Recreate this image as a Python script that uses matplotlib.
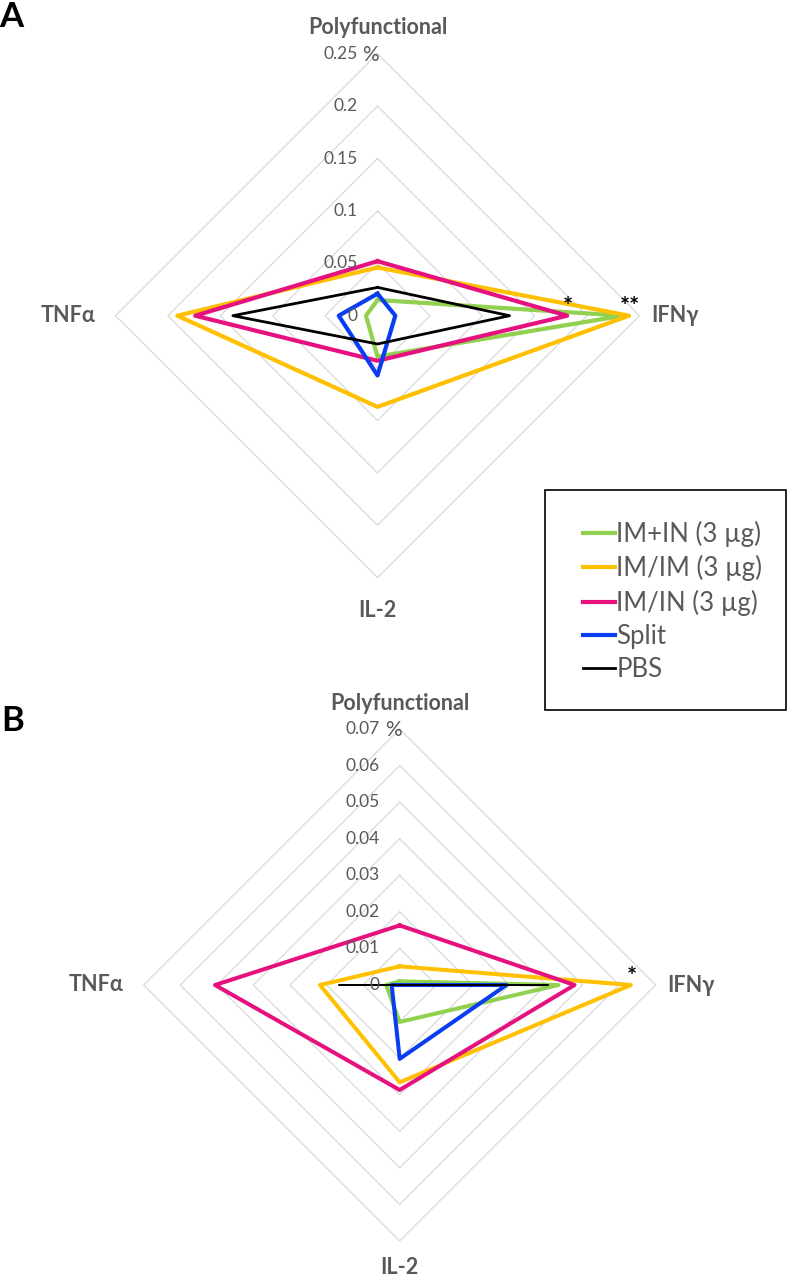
import numpy as np
import matplotlib.pyplot as plt
from matplotlib.patches import Rectangle

plt.rcParams['font.family'] = ['Lato', 'DejaVu Sans']

W, H = 788, 1280
GREY = "#595959"

categories = ["Polyfunctional", "IFNγ", "IL-2", "TNFα"]
groups = ["IM+IN (3 µg)", "IM/IM (3 µg)", "IM/IN (3 µg)", "Split", "PBS"]
colors = ["#92D050", "#FFC000", "#E6117F", "#0A3CF0", "#000000"]

# panel A, % of cells; order: Polyfunctional, IFNγ, IL-2, TNFα
a_im_in = [0.015, 0.234, 0.039, 0.011]
a_im_im = [0.046, 0.240, 0.087, 0.191]
a_im_in2 = [0.052, 0.181, 0.043, 0.174]
a_split = [0.021, 0.017, 0.057, 0.037]
a_pbs = [0.027, 0.126, 0.027, 0.138]
a_ticks = [0, 0.05, 0.10, 0.15, 0.20, 0.25]
a_tick_labels = ["0", "0.05", "0.1", "0.15", "0.2", "0.25"]
a_stars = {"IM/IN (3 µg)": "*", "IM/IM (3 µg)": "**"}

# panel B
b_im_in = [0.0010, 0.0434, 0.0101, 0.0037]
b_im_im = [0.0051, 0.0632, 0.0266, 0.0218]
b_im_in2 = [0.0163, 0.0478, 0.0287, 0.0505]
b_split = [0.0, 0.0292, 0.0202, 0.0022]
b_pbs = [0.0, 0.0406, 0.0, 0.0166]
b_ticks = [0, 0.01, 0.02, 0.03, 0.04, 0.05, 0.06, 0.07]
b_tick_labels = ["0", "0.01", "0.02", "0.03", "0.04", "0.05", "0.06", "0.07"]
b_stars = {"IM/IM (3 µg)": "*"}

ang = np.deg2rad([90, 0, -90, 180])


def panel(fig, cx, cy, r):
    return fig.add_axes([(cx - r) / W, 1 - (cy + r) / H, 2 * r / W, 2 * r / H])


def radar(ax, series, ticks, tick_labels, stars, black_lw, top_pad, bottom_pad):
    rmax = ticks[-1]
    a = np.r_[ang, ang[0]]
    for t in ticks[1:]:
        ax.plot(t * np.cos(a), t * np.sin(a), color="#d9d9d9", lw=0.9,
                clip_on=False, zorder=1)
    for name, vals, c in zip(groups, series, colors):
        v = np.r_[vals, vals[0]]
        lw = black_lw if c == "#000000" else 2.9
        ax.plot(v * np.cos(a), v * np.sin(a), color=c, lw=lw, label=name,
                clip_on=False, solid_joinstyle="round", zorder=2)
        if name in stars:
            ax.annotate(stars[name], (vals[1], 0), xytext=(1, 8),
                        textcoords="offset pixels", ha="center", va="center",
                        fontsize=17, fontweight="bold", color="black")
    for t, lab in zip(ticks, tick_labels):
        ax.annotate(lab, (0, t), xytext=(-20, 0), textcoords="offset pixels",
                    ha="right", va="center", fontsize=12.5, color=GREY)
    ax.annotate("%", (0, rmax), xytext=(-15, -1), textcoords="offset pixels",
                ha="left", va="center", fontsize=15, color=GREY)
    offsets = [(0, top_pad, "center"), (12, 0, "left"),
               (0, -bottom_pad, "center"), (-20, 0, "right")]
    for cat, th, (dx, dy, ha) in zip(categories, ang, offsets):
        ax.annotate(cat, (rmax * np.cos(th), rmax * np.sin(th)), xytext=(dx, dy),
                    textcoords="offset pixels", ha=ha, va="center",
                    fontsize=15.5, fontweight="bold", color=GREY)
    ax.set_xlim(-rmax, rmax)
    ax.set_ylim(-rmax, rmax)
    ax.axis("off")


fig = plt.figure(figsize=(W / 100, H / 100), dpi=100)

ax_a = panel(fig, 377.5, 315.7, 262)
radar(ax_a, [a_im_in, a_im_im, a_im_in2, a_split, a_pbs], a_ticks, a_tick_labels,
      a_stars, 1.9, 26, 33)

ax_b = panel(fig, 399.7, 985, 256)
radar(ax_b, [b_im_in, b_im_im, b_im_in2, b_split, b_pbs], b_ticks, b_tick_labels,
      b_stars, 1.1, 25, 27)

fig.text(11 / W, 1 - 17 / H, "A", fontsize=25, fontweight="bold", ha="center", va="center")
fig.text(13 / W, 1 - 721 / H, "B", fontsize=25, fontweight="bold", ha="center", va="center")

handles, labels = ax_a.get_legend_handles_labels()
for h in handles:
    h.set_linewidth(3.0 if h.get_color() != "#000000" else 2.0)
leg = fig.legend(handles, labels, loc="upper left",
                 bbox_to_anchor=(583 / W, 1 - 521 / H), frameon=False,
                 fontsize=18.5, handlelength=1.25, handletextpad=0.05,
                 labelspacing=0.32, borderpad=0, borderaxespad=0)
for t in leg.get_texts():
    t.set_color(GREY)
fig.add_artist(Rectangle((545 / W, 1 - 710 / H), 241 / W, 220 / H,
                         transform=fig.transFigure, fill=False, ec="black", lw=1.2))

fig.savefig("out.png", dpi=100)
